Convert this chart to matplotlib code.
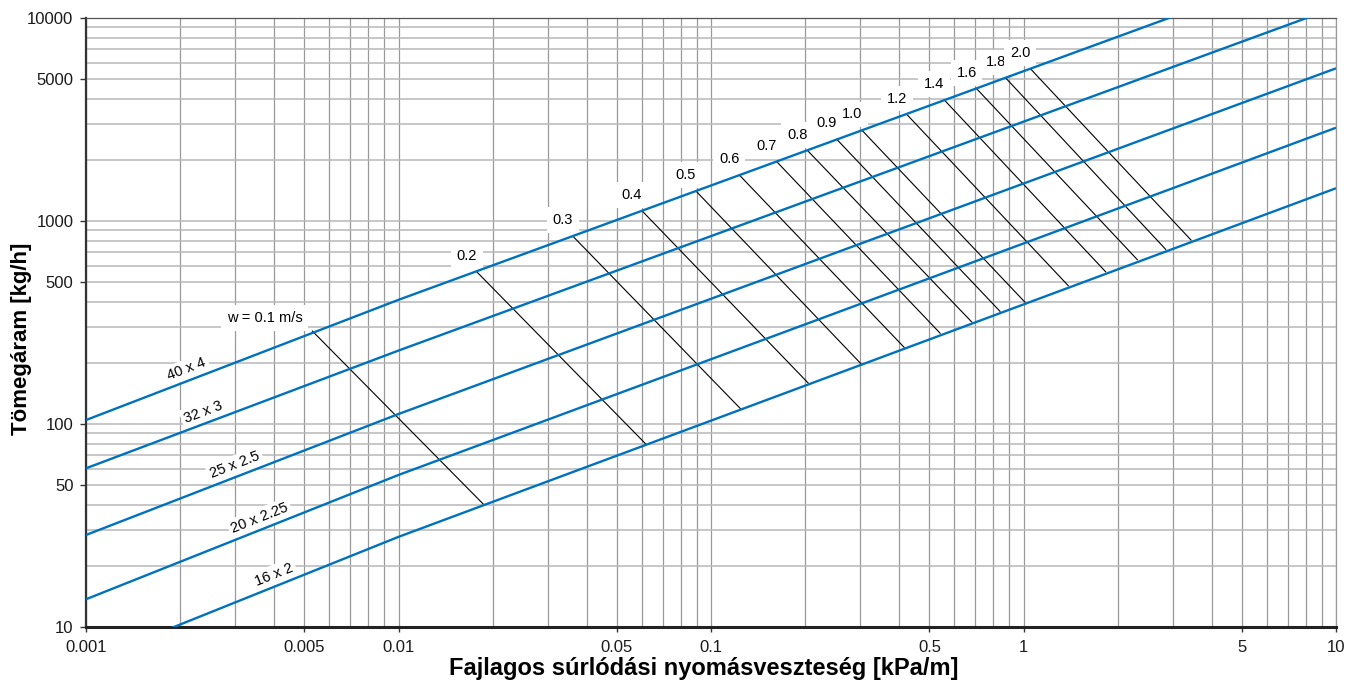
import numpy as np
import matplotlib
matplotlib.use('Agg')
import matplotlib.pyplot as plt
from matplotlib.ticker import NullFormatter

plt.rcParams['font.family'] = ['Liberation Sans', 'DejaVu Sans']

# pipe curves: mass flow [kg/h] at these pressure gradients [kPa/m]
dp_pts = [0.001, 0.01, 10]
pipes = ['40 x 4', '32 x 3', '25 x 2.5', '20 x 2.25', '16 x 2']
m_40x4 = [104.6, 409, 20000]
m_32x3 = [60.5, 230, 11300]
m_25x25 = [28.4, 112, 5650]
m_20x225 = [13.7, 56.1, 2880]
m_16x2 = [6.7, 27.8, 1450]
pipe_m = [m_40x4, m_32x3, m_25x25, m_20x225, m_16x2]

# velocity lines w [m/s], from the 40x4 curve down to the 16x2 curve
velocities = [0.1, 0.2, 0.3, 0.4, 0.5, 0.6, 0.7, 0.8, 0.9, 1.0, 1.2, 1.4, 1.6, 1.8, 2.0]
w_dp_top = [0.0053, 0.0178, 0.0361, 0.0601, 0.0895, 0.1232, 0.1623, 0.2039,
            0.2525, 0.3042, 0.4229, 0.558, 0.708, 0.879, 1.054]
w_m_top = [287, 562, 843, 1124, 1405, 1685, 1960, 2220, 2527, 2798, 3354,
           3945, 4484, 5047, 5609]
w_dp_bot = [0.0188, 0.0617, 0.1245, 0.205, 0.301, 0.415, 0.541, 0.683, 0.841,
            1.011, 1.391, 1.832, 2.313, 2.851, 3.436]
w_m_bot = [39.9, 80, 118.6, 158.7, 199, 238.6, 280, 318, 359, 398, 480, 562,
           645, 725, 806]

x_ticks = [0.001, 0.005, 0.01, 0.05, 0.1, 0.5, 1, 5, 10]
x_ticklabels = ['0.001', '0.005', '0.01', '0.05', '0.1', '0.5', '1', '5', '10']
y_ticks = [10, 50, 100, 500, 1000, 5000, 10000]
y_ticklabels = ['10', '50', '100', '500', '1000', '5000', '10000']

# where along each pipe curve its name sits
pipe_label_dp = [0.0021, 0.00237, 0.003, 0.0036, 0.004]

blue = '#0072bc'

fig = plt.figure(figsize=(13.49, 6.93), dpi=100)
ax = fig.add_axes([86 / 1349, 1 - 627 / 693, 1250 / 1349, 609 / 693])
ax.set_xscale('log')
ax.set_yscale('log')
ax.set_xlim(0.001, 10)
ax.set_ylim(10, 10000)

ax.set_axisbelow(True)
ax.grid(True, which='both', axis='x', color='#999999', lw=0.9)
ax.grid(True, which='both', axis='y', color='#b8b8b8', lw=1.1)

ax.set_xticks(x_ticks)
ax.set_xticklabels(x_ticklabels)
ax.set_yticks(y_ticks)
ax.set_yticklabels(y_ticklabels)
ax.xaxis.set_minor_formatter(NullFormatter())
ax.yaxis.set_minor_formatter(NullFormatter())
ax.tick_params(which='minor', length=0)
ax.tick_params(which='major', labelsize=12, color='#333333', width=1.0,
               labelcolor='#1a1a1a')
ax.tick_params(axis='y', which='major', length=4.5, pad=4.5)
ax.tick_params(axis='x', which='major', length=3.5, pad=6)

ax.spines['left'].set_linewidth(1.6)
ax.spines['left'].set_color('#333333')
ax.spines['bottom'].set_linewidth(2.2)
ax.spines['bottom'].set_color('#222222')
ax.spines['top'].set_linewidth(0.9)
ax.spines['top'].set_color('#555555')
ax.spines['right'].set_linewidth(0.9)
ax.spines['right'].set_color('#999999')

# pipe curves + names
for i in range(len(pipes)):
    ax.plot(dp_pts, pipe_m[i], color=blue, lw=1.7, zorder=3, solid_capstyle='butt')
    p0 = ax.transData.transform((dp_pts[0], pipe_m[i][0]))
    p1 = ax.transData.transform((dp_pts[1], pipe_m[i][1]))
    ang = np.degrees(np.arctan2(p1[1] - p0[1], p1[0] - p0[0]))
    lm = 10 ** np.interp(np.log10(pipe_label_dp[i]), np.log10(dp_pts), np.log10(pipe_m[i]))
    ax.annotate(pipes[i], xy=(pipe_label_dp[i], lm), xytext=(0, 8.6),
                textcoords='offset points', ha='center', va='center',
                rotation=ang, rotation_mode='anchor', fontsize=10.5, zorder=2.5,
                bbox=dict(boxstyle='square,pad=0.2', fc='white', ec='none'))

# velocity lines + labels
for i in range(len(velocities)):
    ax.plot([w_dp_top[i], w_dp_bot[i]], [w_m_top[i], w_m_bot[i]],
            color='black', lw=0.8, zorder=2.8)
    if i == 0:
        txt = f"w = {velocities[i]:.1f} m/s"
        off = (-7, 6.5)
    else:
        txt = f"{velocities[i]:.1f}"
        off = (0, 8.5)
    ax.annotate(txt, xy=(w_dp_top[i], w_m_top[i]), xytext=off,
                textcoords='offset points', ha='right', va='baseline',
                fontsize=10.5, zorder=2.5,
                bbox=dict(boxstyle='square,pad=0.4', fc='white', ec='none'))

ax.set_xlabel('Fajlagos súrlódási nyomásveszteség [kPa/m]', fontsize=17, fontweight='bold')
ax.set_ylabel('Tömegáram [kg/h]', fontsize=16, fontweight='bold')
ax.xaxis.set_label_coords(0.494, -0.05)
ax.yaxis.set_label_coords(-0.0432, 0.4737)

fig.savefig('out.png', dpi=100)
